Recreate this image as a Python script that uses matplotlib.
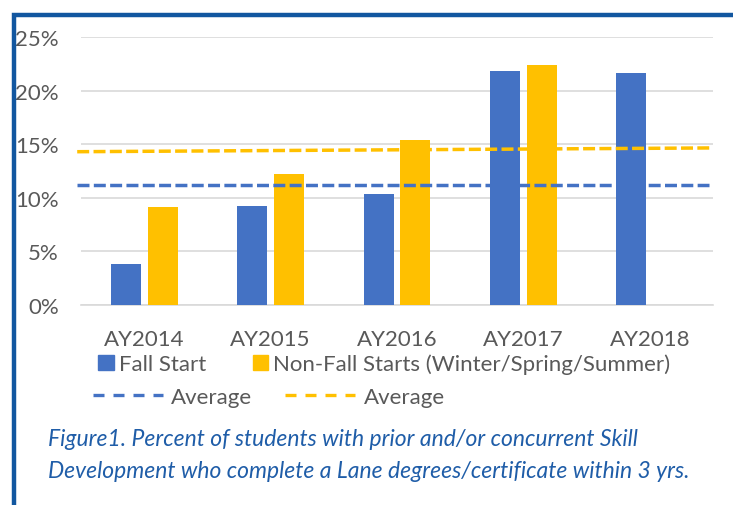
import matplotlib
matplotlib.use("Agg")
import matplotlib.pyplot as plt
from matplotlib.patches import Rectangle, Patch
from matplotlib.lines import Line2D
import numpy as np

categories = ["AY2014", "AY2015", "AY2016", "AY2017", "AY2018"]
fall_start = [3.8, 9.2, 10.4, 21.8, 21.6]
non_fall = [9.1, 12.2, 15.4, 22.4, np.nan]
fall_avg = [11.2, 11.2]
non_fall_avg = [14.3, 14.65]
yticks = [0, 5, 10, 15, 20, 25]
ytick_labels = ["0%", "5%", "10%", "15%", "20%", "25%"]

BLUE = "#4472C4"
YELLOW = "#FFC000"
GRAY = "#595959"
CAPTION = "#1F5DA8"
FRAME = "#1257A0"

plt.rcParams['font.family'] = ['Lato', 'DejaVu Sans']
FS = 16

fig = plt.figure(figsize=(7.33, 5.06), dpi=100)
ax = fig.add_axes([81/733, 1-306/506, (713-81)/733, (306-38)/506])

x = np.arange(len(categories))
w = 0.237
off = 0.146
ax.bar(x - off, fall_start, width=w, color=BLUE, zorder=3)
ax.bar(x + off, non_fall, width=w, color=YELLOW, zorder=3)

ax.plot([-0.53, 4.47], fall_avg, color=BLUE, lw=2.5, dashes=(3.45, 1.25), zorder=4, clip_on=False)
ax.plot([-0.53, 4.47], non_fall_avg, color=YELLOW, lw=2.5, dashes=(3.45, 1.25), zorder=4, clip_on=False)

ax.set_xlim(-0.5, 4.5)
ax.set_ylim(0, 25)
ax.set_yticks(yticks)
ax.set_yticklabels(ytick_labels)
ax.set_xticks(x)
ax.set_xticklabels(categories)
ax.yaxis.grid(True, color="#D9D9D9", lw=1.2, zorder=0)
ax.set_axisbelow(True)
for s in ["top", "right", "left"]:
    ax.spines[s].set_visible(False)
ax.spines["bottom"].set_color("#D9D9D9")
ax.spines["bottom"].set_linewidth(1.2)
ax.tick_params(axis="both", length=0, labelsize=FS, labelcolor=GRAY)
ax.tick_params(axis="y", pad=16)
ax.tick_params(axis="x", pad=17)

# Legend row 1
h1 = [Patch(color=BLUE), Patch(color=YELLOW)]
leg1 = fig.legend(h1, ["Fall Start", "Non-Fall Starts (Winter/Spring/Summer)"],
                  loc="center left", bbox_to_anchor=(98/733, 1-365/506), ncol=2,
                  frameon=False, fontsize=FS, handlelength=0.7, handleheight=0.7,
                  handletextpad=0.23, columnspacing=2.1, borderpad=0, borderaxespad=0)
for t in leg1.get_texts():
    t.set_color(GRAY)
h2 = [Line2D([], [], color=BLUE, lw=2.4, dashes=(3.3, 2.7)),
      Line2D([], [], color=YELLOW, lw=2.4, dashes=(3.3, 2.7))]
leg2 = fig.legend(h2, ["Average", "Average"],
                  loc="center left", bbox_to_anchor=(93/733, 1-398/506), ncol=2,
                  frameon=False, fontsize=FS, handlelength=3.15,
                  handletextpad=0.36, columnspacing=1.5, borderpad=0, borderaxespad=0)
for t in leg2.get_texts():
    t.set_color(GRAY)

# Caption
fig.text(48/733, 1-440/506, "Figure1. Percent of students with prior and/or concurrent Skill",
         color=CAPTION, fontsize=16.5, style="italic", va="center", ha="left")
fig.text(48/733, 1-472/506, "Development who complete a Lane degrees/certificate within 3 yrs.",
         color=CAPTION, fontsize=16.5, style="italic", va="center", ha="left")

# Frame
fig.patches.append(Rectangle((14/733, -0.1), 1.2, (1-16/506) + 0.1, transform=fig.transFigure,
                             fill=False, edgecolor=FRAME, lw=3.2, zorder=10))

fig.savefig("out.png", dpi=100)
